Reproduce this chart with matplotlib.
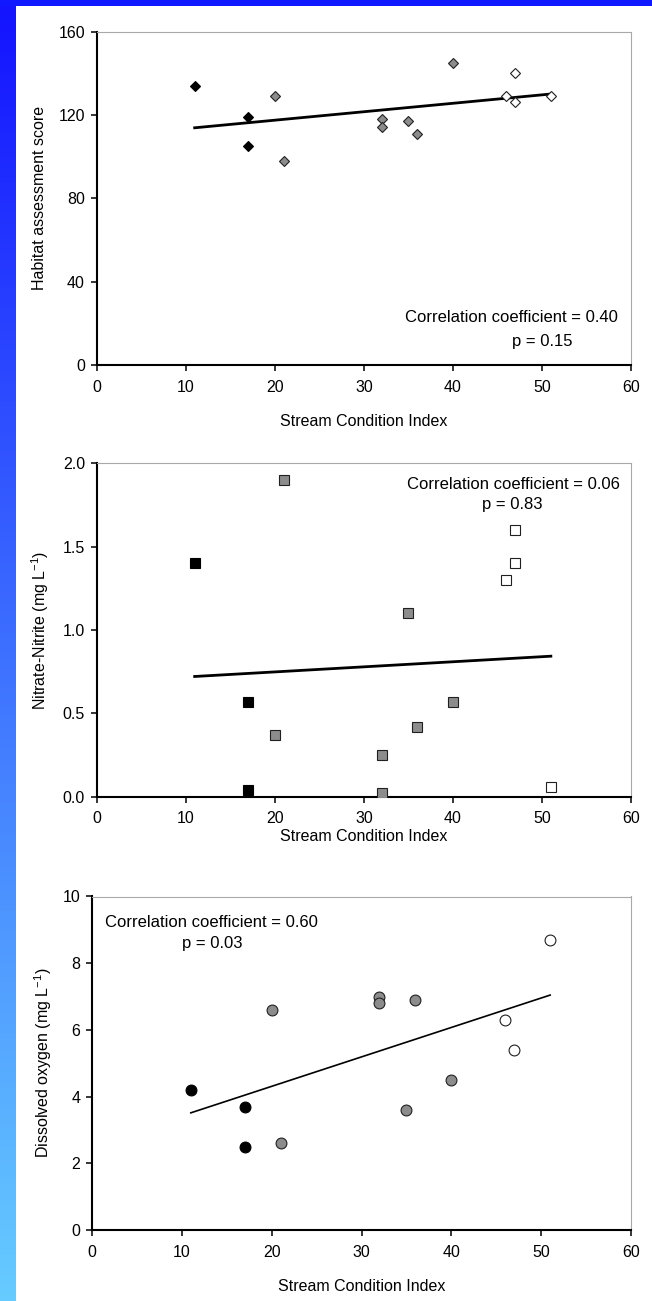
import numpy as np
import matplotlib
matplotlib.use("Agg")
import matplotlib.pyplot as plt

plt.rcParams['font.family'] = ['Liberation Sans', 'DejaVu Sans']
plt.rcParams['mathtext.default'] = 'regular'

# Stream Condition Index for the three site groups
sci_black = [11, 17, 17]
sci_grey = [20, 21, 32, 32, 35, 36, 40]
sci_white = [46, 47, 47, 51]
sci_white_do = [46, 47, 51]

# habitat assessment score
hab_black = [134, 119, 105]
hab_grey = [129, 98, 118, 114, 117, 111, 145]
hab_white = [129, 140, 126, 129]

# nitrate-nitrite (mg/L)
no3_black = [1.4, 0.57, 0.04]
no3_grey = [0.37, 1.9, 0.25, 0.02, 1.1, 0.42, 0.57]
no3_white = [1.3, 1.6, 1.4, 0.06]

# dissolved oxygen (mg/L)
do_black = [4.2, 3.7, 2.5]
do_grey = [6.6, 2.6, 7.0, 6.8, 3.6, 6.9, 4.5]
do_white = [6.3, 5.4, 8.7]

W, H = 652, 1301
fig = plt.figure(figsize=(W / 100, H / 100), dpi=100)
fig.patch.set_facecolor('white')

# blue frame: top bar + left gradient bar
fig.patches.append(plt.Rectangle((0, 1 - 6 / H), 1, 6 / H, transform=fig.transFigure,
                                 facecolor='#0f18ff', edgecolor='none', zorder=0))
bar = fig.add_axes([0, 0, 16 / W, 1 - 6 / H])
top = np.array([0x14, 0x14, 0xff]) / 255
bot = np.array([0x66, 0xcc, 0xff]) / 255
t = np.linspace(0, 1, 256)[:, None]
grad = (top[None, :] * (1 - t) + bot[None, :] * t)[:, None, :]
bar.imshow(grad, aspect='auto', extent=[0, 1, 0, 1])
bar.set_axis_off()

GREY = '#8c8c8c'


def make_axes(left_px, bottom_px, ylim, yticks, yfmt):
    ax = fig.add_axes([left_px / W, (H - bottom_px) / H, (631 - left_px) / W, 333.5 / H])
    ax.set_xlim(0, 60)
    ax.set_ylim(*ylim)
    ax.set_xticks(range(0, 61, 10))
    ax.set_yticks(yticks)
    ax.set_yticklabels([yfmt.format(v) for v in yticks])
    for s in ('left', 'bottom'):
        ax.spines[s].set_linewidth(1.5)
        ax.spines[s].set_color('black')
    for s in ('top', 'right'):
        ax.spines[s].set_linewidth(0.8)
        ax.spines[s].set_color('#a8a8a8')
    ax.tick_params(direction='out', length=4.5, width=1.1, labelsize=11.5, pad=4)
    ax.tick_params(axis='x', pad=6)
    ax.set_xlabel('Stream Condition Index', fontsize=11.5)
    return ax


def groups(ax, marker, ms, yb, yg, yw, xw):
    ax.plot(sci_black, yb, marker, ms=ms, mfc='black', mec='black', mew=0.8, ls='none', zorder=3)
    ax.plot(sci_grey, yg, marker, ms=ms, mfc=GREY, mec='#202020', mew=0.8, ls='none', zorder=3)
    ax.plot(xw, yw, marker, ms=ms, mfc='white', mec='#202020', mew=0.8, ls='none', zorder=3)
    xs = np.array(sci_black + sci_grey + list(xw), dtype=float)
    ys = np.array(yb + yg + yw, dtype=float)
    k, b = np.polyfit(xs, ys, 1)
    return np.array([xs.min(), xs.max()]), k, b


# panel 1 - habitat
ax1 = make_axes(96.7, 365, (0, 160), [0, 40, 80, 120, 160], '{:g}')
xx, k, b = groups(ax1, 'D', 5.5, hab_black, hab_grey, hab_white, sci_white)
ax1.plot(xx, k * xx + b, color='black', lw=2.0, zorder=2)
ax1.xaxis.labelpad = 14
ax1.text(34.6, 22.6, 'Correlation coefficient = 0.40', fontsize=12, va='center', ha='left')
ax1.text(46.6, 11.2, 'p = 0.15', fontsize=12, va='center', ha='left')
fig.text(40 / W, 1 - 198 / H, 'Habitat assessment score', rotation=90,
         ha='center', va='center', fontsize=11.5)

# panel 2 - nitrate
ax2 = make_axes(96.7, 796.7, (0, 2), [0, 0.5, 1.0, 1.5, 2.0], '{:.1f}')
xx, k, b = groups(ax2, 's', 7.8, no3_black, no3_grey, no3_white, sci_white)
ax2.plot(xx, k * xx + b, color='black', lw=2.0, zorder=2)
ax2.xaxis.labelpad = 2
ax2.text(34.8, 1.87, 'Correlation coefficient = 0.06', fontsize=12, va='center', ha='left')
ax2.text(43.3, 1.75, 'p = 0.83', fontsize=12, va='center', ha='left')
fig.text(40 / W, 1 - 630 / H, 'Nitrate-Nitrite (mg L$^{-1}$)', rotation=90,
         ha='center', va='center', fontsize=11.5)

# panel 3 - dissolved oxygen
ax3 = make_axes(92, 1230, (0, 10), [0, 2, 4, 6, 8, 10], '{:g}')
xx, k, b = groups(ax3, 'o', 7.8, do_black, do_grey, do_white, sci_white_do)
ax3.plot(xx, k * xx + b, color='black', lw=1.2, zorder=2)
ax3.xaxis.labelpad = 14
ax3.text(1.45, 9.22, 'Correlation coefficient = 0.60', fontsize=12, va='center', ha='left')
ax3.text(9.99, 8.6, 'p = 0.03', fontsize=12, va='center', ha='left')
fig.text(43 / W, 1 - 1063 / H, 'Dissolved oxygen (mg L$^{-1}$)', rotation=90,
         ha='center', va='center', fontsize=11.5)

fig.savefig('out.png', dpi=100)
